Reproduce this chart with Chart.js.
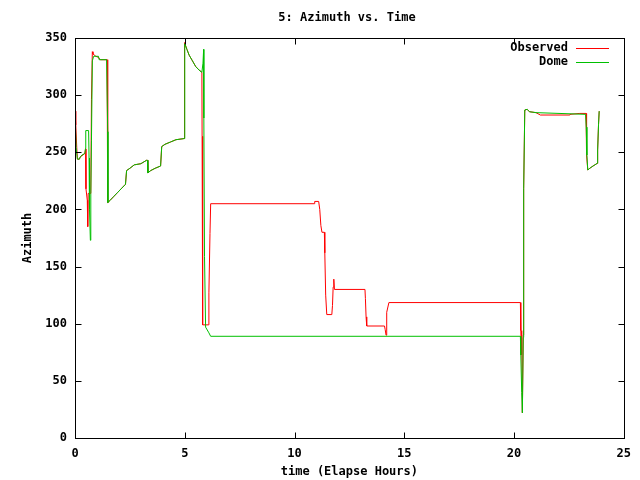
<!DOCTYPE html>
<html>
<head>
<meta charset="utf-8">
<script src="https://cdn.jsdelivr.net/npm/chart.js@4/dist/chart.umd.min.js"></script>
<style>
  html, body { margin: 0; padding: 0; background: #fff; }
  #wrap { width: 640px; height: 480px; }
</style>
</head>
<body>
<div id="wrap"><canvas id="azimuth"></canvas></div>
<script>
// values (hours, degrees)
var obsTime = [0, 0.03, 0.04, 0.08, 0.11, 0.2, 0.24, 0.32, 0.45, 0.48, 0.5, 0.5, 0.56, 0.58, 0.6, 0.72, 0.75, 0.79, 0.82, 0.95, 1.07, 1.15, 1.46, 1.48, 1.5,
  1.6, 1.75, 1.95, 2.1, 2.3, 2.35, 2.5, 2.7, 3.0, 3.26, 3.3, 3.32, 3.45, 3.65, 3.9, 3.95, 4.1, 4.35, 4.6, 4.97, 4.98, 5.0,
  5.1, 5.2, 5.35, 5.5, 5.65, 5.78, 5.79, 5.81, 5.82, 6.08, 6.1, 6.15, 6.18, 10.9, 10.92, 11.1, 11.15, 11.2, 11.25, 11.36,
  11.38, 11.42, 11.47, 11.7, 11.73, 11.76, 11.79, 11.82, 13.21, 13.23, 13.26, 13.29, 14.1, 14.13, 14.17, 14.2, 14.3,
  20.29, 20.31, 20.33, 20.35, 20.38, 20.42, 20.44, 20.49, 20.6, 20.7, 21.0, 21.2, 22.52, 22.55, 23.0, 23.28, 23.29,
  23.32, 23.36, 23.45, 23.6, 23.79, 23.81, 23.85, 23.88];
var obsAz = [286, 286, 274, 254, 244, 244, 246, 247, 249, 253, 253, 218, 208, 185, 214, 214, 296, 338, 336, 334, 333, 331, 331, 268, 206,
  208, 211, 215, 218, 222, 234, 236, 239, 240, 243, 243, 232, 234, 236, 238, 255, 257, 259, 261, 262, 300, 346,
  340, 335, 330, 325, 322, 320, 264, 154, 99, 99, 127, 179, 205, 205, 207, 207, 200, 186, 180, 180,
  162, 125, 108, 108, 116, 132, 139, 130, 130, 122, 106, 98, 98, 95, 90, 110, 118.5,
  118.5, 94, 73, 94, 22, 90, 218, 287, 287.6, 285.5, 284.7, 282.6, 282.6, 283.2, 284, 284, 272,
  247.6, 234.5, 236, 238, 240.3, 252, 274.5, 286];

var domeTime = [0, 0.02, 0.05, 0.11, 0.2, 0.24, 0.32, 0.45, 0.48, 0.49, 0.62, 0.64, 0.66, 0.7, 0.72, 0.75, 0.79, 0.85, 1.07, 1.1, 1.44, 1.49, 1.5,
  1.6, 1.75, 1.95, 2.1, 2.3, 2.35, 2.5, 2.7, 3.0, 3.26, 3.3, 3.32, 3.45, 3.65, 3.9, 3.95, 4.1, 4.35, 4.6, 4.97, 5.0,
  5.1, 5.2, 5.35, 5.5, 5.65, 5.78, 5.83, 5.86, 5.87, 5.9, 5.95, 6.1, 6.18, 20.29, 20.31, 20.35, 20.38, 20.42, 20.44, 20.49,
  20.6, 20.7, 21.0, 23.26, 23.29, 23.32, 23.36, 23.45, 23.6, 23.79, 23.81, 23.85, 23.88];
var domeAz = [286, 286, 254, 244, 244, 246, 247.6, 249, 253.5, 269, 269, 245, 200, 173, 214, 260, 330, 334, 334, 331, 331, 268, 206,
  208, 211, 215, 218, 222, 234, 236, 239, 240, 243, 243, 232, 234, 236, 238, 255, 257, 259, 261, 262, 345,
  340, 335, 330, 325, 322, 320, 328, 340, 280, 159, 97, 92, 89, 89, 72.6, 39.7, 22, 88, 218, 287,
  287.6, 285.5, 284.7, 283.2, 272, 247.6, 234.5, 236, 238, 240.3, 252, 274.5, 286];

var xTicks = [0, 5, 10, 15, 20, 25];
var yTicks = [0, 50, 100, 150, 200, 250, 300, 350];

function pairs(xs, ys) {
  var out = [];
  for (var i = 0; i < xs.length; i++) out.push({x: xs[i], y: ys[i]});
  return out;
}

var FONT = "'DejaVu Sans Mono', 'Liberation Mono', monospace";

// gnuplot style frame: box, inward ticks on all four sides, title and key
var gnuFrame = {
  id: 'gnuFrame',
  afterDatasetsDraw: function(chart) {
    var ctx = chart.ctx, a = chart.chartArea;
    var xs = chart.scales.x, ys = chart.scales.y;
    var L = Math.round(a.left) + 0.5, R = Math.round(a.right) + 0.5;
    var T = Math.round(a.top) + 0.5, B = Math.round(a.bottom) + 0.5;
    ctx.save();
    ctx.strokeStyle = '#000';
    ctx.lineWidth = 1;
    ctx.strokeRect(L, T, R - L, B - T);
    ctx.beginPath();
    xTicks.forEach(function(v) {
      var px = Math.round(xs.getPixelForValue(v)) + 0.5;
      ctx.moveTo(px, B); ctx.lineTo(px, B - 6);
      ctx.moveTo(px, T); ctx.lineTo(px, T + 6);
    });
    yTicks.forEach(function(v) {
      var py = Math.round(ys.getPixelForValue(v)) + 0.5;
      ctx.moveTo(L, py); ctx.lineTo(L + 6, py);
      ctx.moveTo(R, py); ctx.lineTo(R - 6, py);
    });
    ctx.stroke();

    // title
    ctx.fillStyle = '#000';
    ctx.font = 'bold 12px ' + FONT;
    ctx.textAlign = 'center';
    ctx.textBaseline = 'middle';
    ctx.fillText('5: Azimuth vs. Time', 347, 18);

    // key
    ctx.textAlign = 'right';
    chart.data.datasets.forEach(function(ds, i) {
      var y = 48 + i * 14;
      ctx.fillStyle = '#000';
      ctx.fillText(ds.label, 568, y);
      ctx.strokeStyle = ds.borderColor;
      ctx.beginPath();
      ctx.moveTo(576, y + 0.5);
      ctx.lineTo(609, y + 0.5);
      ctx.stroke();
    });
    ctx.restore();
  }
};

var ctx = document.getElementById('azimuth').getContext('2d');
var chart = new Chart(ctx, {
  type: 'line',
  data: {
    datasets: [{
      label: 'Observed',
      data: pairs(obsTime, obsAz),
      borderColor: '#ff0000',
      borderWidth: 1,
      pointRadius: 0,
      tension: 0,
      order: 2
    }, {
      label: 'Dome',
      data: pairs(domeTime, domeAz),
      borderColor: '#00c000',
      borderWidth: 1,
      pointRadius: 0,
      tension: 0,
      order: 1
    }]
  },
  options: {
    responsive: true,
    maintainAspectRatio: false,
    animation: false,
    layout: { padding: { top: 38, right: 15, left: 0, bottom: 0 } },
    plugins: {
      legend: { display: false },
      tooltip: { enabled: false },
      title: { display: false }
    },
    scales: {
      x: {
        type: 'linear',
        min: 0, max: 25,
        grid: { display: false, drawTicks: false },
        border: { display: false },
        ticks: { stepSize: 5, padding: 9, color: '#000', font: { family: FONT, size: 12, weight: 'bold' } },
        title: { display: true, text: 'time (Elapse Hours)', color: '#000', padding: { top: 0, bottom: 1 },
                 font: { family: FONT, size: 12, weight: 'bold' } },
        afterFit: function(s) { s.height = 42; }
      },
      y: {
        min: 0, max: 350,
        grid: { display: false, drawTicks: false },
        border: { display: false },
        ticks: { stepSize: 50, padding: 8, color: '#000', font: { family: FONT, size: 12, weight: 'bold' } },
        title: { display: true, text: 'Azimuth', color: '#000', padding: { top: 21, bottom: 0 },
                 font: { family: FONT, size: 12, weight: 'bold' } },
        afterFit: function(s) { s.width = 75; }
      }
    }
  },
  plugins: [gnuFrame]
});
</script>
</body>
</html>
